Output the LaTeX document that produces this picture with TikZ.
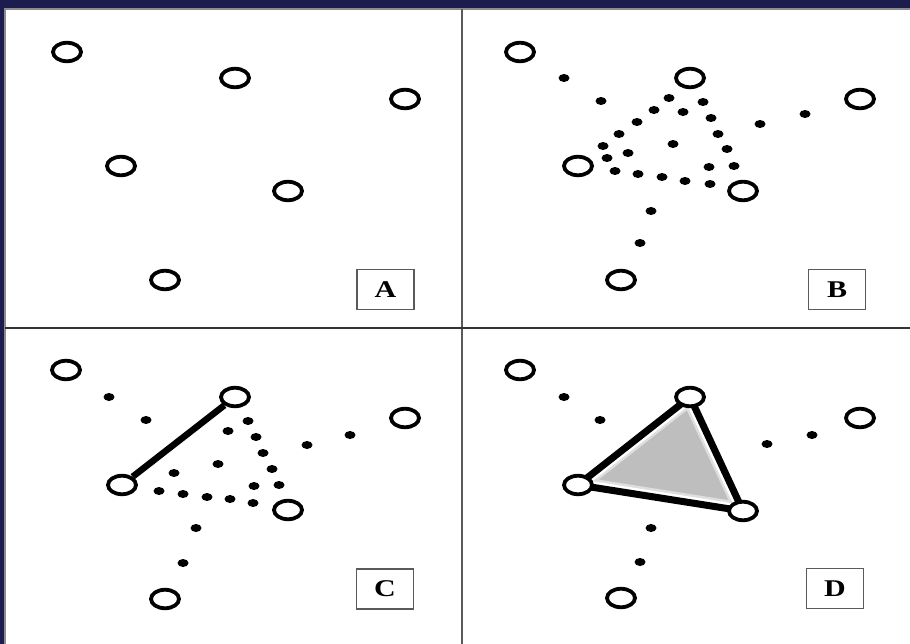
\documentclass[tikz,border=0pt]{standalone}
\usepackage{fontspec}
\setmainfont{Liberation Serif}
\usepackage{tikz}
\usetikzlibrary{shapes.geometric, positioning}
\definecolor{mynavy}{RGB}{28,28,78}
\definecolor{myframe}{RGB}{140,140,140}
\definecolor{mydiv}{RGB}{90,90,90}
\definecolor{mygray}{RGB}{190,190,190}
\definecolor{myglow}{RGB}{222,222,222}
\pgfdeclarelayer{bg}
\pgfsetlayers{bg,main}
\tikzset{
  vertex/.style={ellipse, draw=black, fill=white, line width=3.8pt,
    minimum width=28pt, minimum height=18.5pt, inner sep=0pt},
  dot/.style={ellipse, fill=black, minimum width=11pt,
    minimum height=8pt, inner sep=0pt},
  tag/.style={rectangle, draw=mydiv, line width=1.2pt, minimum width=57pt,
    minimum height=40pt, inner sep=0pt,
    font=\fontsize{24}{24}\selectfont\bfseries},
  edge/.style={line width=6.5pt, color=black},
  line/.style={line width=2pt, color=mydiv}
}

\begin{document}
\begin{tikzpicture}[x=1pt, y=-1pt]
  \useasboundingbox (0,0) rectangle (910,644);

  % Background band and frame
  \begin{pgfonlayer}{bg}
    \fill[mynavy] (0,0) rectangle (910,644);
    \fill[white] (5,9) rectangle (910,644);
    \draw[line, color=myframe] (5,644) -- (5,9) -- (910,9);
    \draw[line] (462,9) -- (462,644);
    \draw[line width=1.5pt, color=black!80] (5,328) -- (910,328);
  \end{pgfonlayer}

  % Panel A: the points only
  \node[vertex] (a1) at (67,52) {};
  \node[vertex] (a2) at (235,78) {};
  \node[vertex] (a3) at (405,99) {};
  \node[vertex] (a4) at (121,166) {};
  \node[vertex] (a5) at (288,191) {};
  \node[vertex] (a6) at (165,280) {};
  \node[tag] (tagA) at (385.5,289.5) {\scalebox{1.25}[1]{A}};

  % Panel B: dotted candidate links
  \begin{scope}[shift={(455,0)}]
    \node[vertex] (b1) at (65,52) {};
    \node[vertex] (b2) at (235,78) {};
    \node[vertex] (b3) at (405,99) {};
    \node[vertex] (b4) at (123,166) {};
    \node[vertex] (b5) at (288,191) {};
    \node[vertex] (b6) at (166,280) {};
    \node[dot] (bd1) at (109,78) {};   \node[dot] (bd2) at (146,101) {};
    \node[dot] (bd3) at (214,98) {};   \node[dot] (bd4) at (248,102) {};
    \node[dot] (bd5) at (199,110) {};  \node[dot] (bd6) at (228,112) {};
    \node[dot] (bd7) at (256,118) {};  \node[dot] (bd8) at (182,122) {};
    \node[dot] (bd9) at (305,124) {};  \node[dot] (bd10) at (164,134) {};
    \node[dot] (bd11) at (263,134) {}; \node[dot] (bd12) at (218,144) {};
    \node[dot] (bd13) at (148,146) {}; \node[dot] (bd14) at (272,149) {};
    \node[dot] (bd15) at (173,153) {}; \node[dot] (bd16) at (152,158) {};
    \node[dot] (bd17) at (254,167) {}; \node[dot] (bd18) at (279,166) {};
    \node[dot] (bd19) at (160,171) {}; \node[dot] (bd20) at (183,174) {};
    \node[dot] (bd21) at (207,177) {}; \node[dot] (bd22) at (230,181) {};
    \node[dot] (bd23) at (255,184) {}; \node[dot] (bd24) at (196,211) {};
    \node[dot] (bd25) at (185,243) {}; \node[dot] (bd26) at (350,114) {};
  \end{scope}
  \node[tag] (tagB) at (837,289.5) {\scalebox{1.25}[1]{B}};

  % Panel C: first edge fixed
  \begin{scope}[shift={(0,319)}]
    \node[vertex] (c1) at (66,51) {};
    \node[vertex] (c2) at (235,78) {};
    \node[vertex] (c3) at (405,99) {};
    \node[vertex] (c4) at (122,166) {};
    \node[vertex] (c5) at (288,191) {};
    \node[vertex] (c6) at (165,280) {};
    \node[dot] (cd1) at (109,78) {};   \node[dot] (cd2) at (146,101) {};
    \node[dot] (cd3) at (248,102) {};  \node[dot] (cd4) at (228,112) {};
    \node[dot] (cd5) at (256,118) {};  \node[dot] (cd6) at (307,126) {};
    \node[dot] (cd7) at (263,134) {};  \node[dot] (cd8) at (218,145) {};
    \node[dot] (cd9) at (272,150) {};  \node[dot] (cd10) at (174,154) {};
    \node[dot] (cd11) at (254,167) {}; \node[dot] (cd12) at (279,166) {};
    \node[dot] (cd13) at (159,172) {}; \node[dot] (cd14) at (183,175) {};
    \node[dot] (cd15) at (207,178) {}; \node[dot] (cd16) at (230,180) {};
    \node[dot] (cd17) at (253,184) {}; \node[dot] (cd18) at (196,209) {};
    \node[dot] (cd19) at (183,244) {}; \node[dot] (cd20) at (350,116) {};
  \end{scope}
  \node[tag] (tagC) at (385,589) {\scalebox{1.25}[1]{C}};
  \draw[edge] (c4) -- (c2);

  % Panel D: triangle completed
  \begin{scope}[shift={(455,319)}]
    \node[vertex] (d1) at (65,51) {};
    \node[vertex] (d2) at (235,78) {};
    \node[vertex] (d3) at (405,99) {};
    \node[vertex] (d4) at (123,166) {};
    \node[vertex] (d5) at (288,192) {};
    \node[vertex] (d6) at (166,279) {};
    \node[dot] (dd1) at (109,78) {};   \node[dot] (dd2) at (145,101) {};
    \node[dot] (dd3) at (312,125) {};  \node[dot] (dd4) at (357,116) {};
    \node[dot] (dd5) at (196,209) {};  \node[dot] (dd6) at (185,243) {};
  \end{scope}
  \node[tag] (tagD) at (835,588.5) {\scalebox{1.25}[1]{D}};
  \begin{pgfonlayer}{bg}
    \fill[mygray] (d2.center) -- (d4.center) -- (d5.center) -- cycle;
    \begin{scope}
      \clip (d2.center) -- (d4.center) -- (d5.center) -- cycle;
      \draw[line width=17pt, color=myglow, line join=round]
        (d2.center) -- (d4.center) -- (d5.center) -- cycle;
      \draw[line width=12pt, color=white, line join=round]
        (d2.center) -- (d4.center) -- (d5.center) -- cycle;
    \end{scope}
    \draw[edge, line width=7pt, line join=round]
      (d2.center) -- (d4.center) -- (d5.center) -- cycle;
  \end{pgfonlayer}
\end{tikzpicture}
\end{document}
